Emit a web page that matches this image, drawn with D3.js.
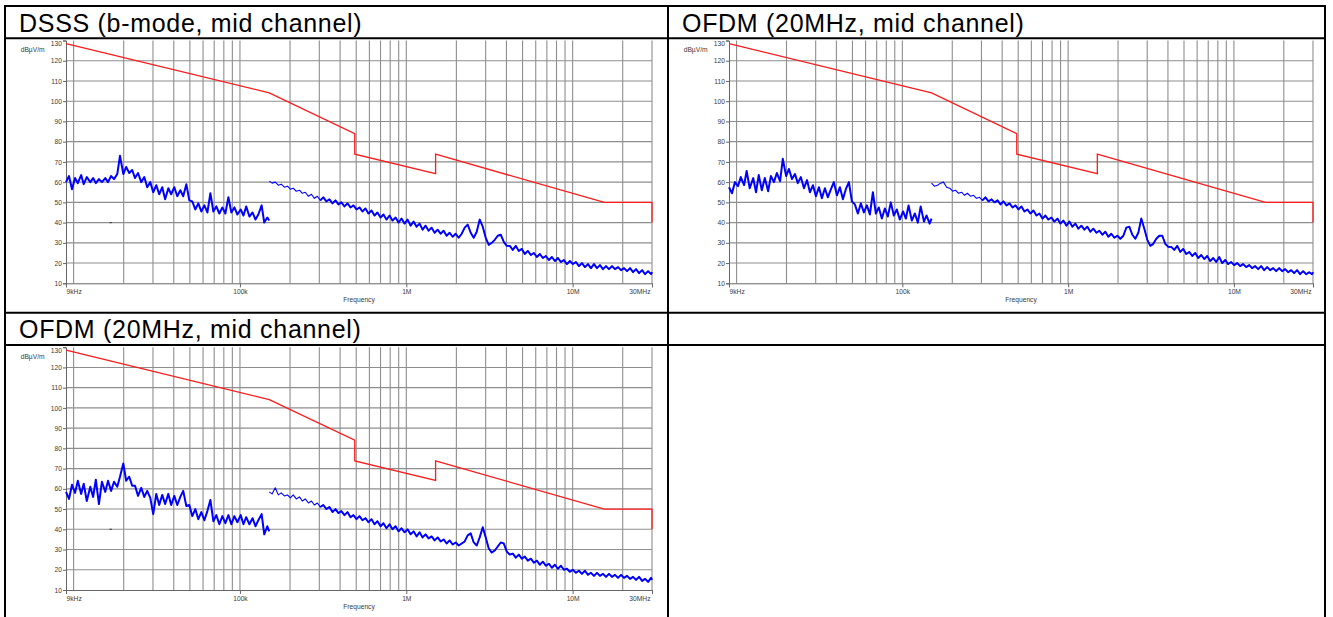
<!DOCTYPE html>
<html><head><meta charset="utf-8">
<script src="https://cdn.jsdelivr.net/npm/d3@7"></script>
<style>
html,body{margin:0;padding:0;background:#fff;}
svg{display:block;font-family:"Liberation Sans",Arial,Helvetica,sans-serif;}
</style></head><body>
<svg id="c" width="1333" height="617"></svg>
<script>
// ---------------- data ----------------
const panelTitles = ["DSSS (b-mode, mid channel)", "OFDM (20MHz, mid channel)", "OFDM (20MHz, mid channel)"];
const yTicks = [10, 20, 30, 40, 50, 60, 70, 80, 90, 100, 110, 120, 130];
const yUnit = "dBµV/m";
const xLabelTitle = "Frequency";
const xTickKHz = [9, 100, 1000, 10000, 30000];
const xTickText = ["9kHz", "100k", "1M", "10M", "30MHz"];
const xGridKHz = [10, 20, 30, 40, 50, 60, 70, 80, 90, 100, 200, 300, 400, 500, 600, 700, 800, 900,
  1000, 2000, 3000, 4000, 5000, 6000, 7000, 8000, 9000, 10000, 20000, 30000];
// limit line (kHz, dBµV/m)
const limitKHz = [9, 150, 490, 490, 1500, 1500, 15500, 30000, 30000];
const limitDb = [128.5, 104.1, 84, 73.8, 64.2, 73.8, 50, 50, 40];
// sweep frequencies (kHz)
const freqSeg1 = [9, 9.38, 9.78, 10.2, 10.6, 11.1, 11.5, 12.0, 12.6, 13.1, 13.6, 14.2, 14.8, 15.5, 16.1, 16.8, 17.5, 18.3, 19.0, 19.9,
  20.7, 21.6, 22.5, 23.4, 24.4, 25.5, 26.6, 27.7, 28.9, 30.1, 31.4, 32.7, 34.1, 35.5, 37.1, 38.6, 40.3, 42.0, 43.8, 45.6,
  47.6, 49.6, 51.7, 53.9, 56.2, 58.6, 61.1, 63.7, 66.4, 69.2, 72.1, 75.2, 78.4, 81.7, 85.2, 88.8, 92.6, 96.5, 101, 105,
  109, 114, 119, 124, 129, 135, 140, 146, 150];
const freqSeg2 = [150, 156, 163, 170, 177, 185, 193, 201, 209, 218, 228, 237, 247, 258, 269, 280, 292, 304, 317, 331,
  345, 360, 375, 391, 407, 425, 443, 462, 481, 502, 523, 545, 568, 592, 618, 644, 671, 700, 729, 760,
  793, 826, 862, 898, 936, 976, 1018, 1061, 1106, 1153, 1202, 1253, 1306, 1362, 1420, 1480, 1543, 1609, 1677, 1748,
  1822, 1900, 1981, 2065, 2153, 2244, 2339, 2439, 2543, 2651, 2763, 2881, 3003, 3131, 3264, 3402, 3547, 3698, 3855, 4019,
  4190, 4368, 4553, 4747, 4949, 5159, 5378, 5607, 5845, 6093, 6352, 6622, 6904, 7197, 7503, 7822, 8155, 8501, 8862, 9239,
  9632, 10041, 10468, 10912, 11376, 11860, 12364, 12889, 13437, 14008, 14603, 15224, 15871, 16546, 17249, 17982, 18746, 19543, 20373, 21239,
  22142, 23083, 24064, 25087, 26153, 27264, 28423, 29631, 30000];
// measured levels (dBµV/m)
const dsssSeg1 = [60, 63, 56.5, 62, 59.5, 63.5, 59, 62.5, 60, 62, 59.5, 61.5, 60, 62, 60, 63, 61.5, 64, 73, 64,
  67.5, 64.5, 66, 62, 64.5, 60, 62.5, 57.5, 60, 55, 58.5, 54, 57.5, 51.5, 57, 54, 57.5, 53, 56, 53,
  59, 51, 50.5, 46.5, 49.5, 45.5, 48.5, 45, 54.5, 45.5, 48, 44.5, 47.5, 44.5, 52.5, 45, 47.5, 44, 46.5, 43.5,
  48, 43, 45, 41.5, 44, 48.5, 40, 42.5, 41];
const dsssSeg2 = [60.5, 59.5, 60, 58.5, 59, 57.5, 58, 56.5, 57, 55.5, 56, 54.5, 55, 53, 54, 52, 53, 51, 52.5, 50.5,
  51.5, 49.5, 51, 49, 50, 48, 49.5, 47.5, 48.5, 46.5, 47.5, 45.5, 47, 44.5, 46, 43.5, 45, 42.5, 44, 41.5,
  43.5, 41, 42.5, 40, 42, 39.5, 41.5, 38.5, 40.5, 38, 39.5, 36.5, 38.5, 36, 37.5, 35, 36.5, 34.5, 36, 33.5,
  35, 33, 34.5, 32.5, 34.5, 37.5, 39, 35, 32.5, 35.5, 41.5, 38, 32.5, 29, 30, 31.5, 33.5, 34, 30.5, 28.5,
  28.5, 26.5, 28.5, 26, 27, 24.5, 26, 24, 25, 23, 24.5, 22.5, 23.5, 21.5, 23, 21, 22.5, 20.5, 21.5, 19.5,
  21, 19.5, 20.5, 18.5, 20, 18, 19.5, 17.5, 19.5, 17.5, 19, 17, 18.5, 17, 18.5, 17, 18, 16.5, 17.5, 16,
  17.5, 15.5, 17, 15, 16.5, 14.5, 16, 14.5, 15.5];
const ofdmASeg1 = [57.5, 54.5, 60, 58, 62.5, 58.5, 65.5, 57, 62, 55, 63.5, 56, 62, 55.5, 63, 60, 64.5, 60.5, 71.5, 63,
  66.5, 61.5, 64, 59.5, 62.5, 57, 61, 55, 58.5, 53, 57.5, 52, 57, 52.5, 56.5, 60, 53.5, 57.5, 51.5, 56.5,
  60, 50.5, 49, 44.5, 49.5, 45, 48.5, 44, 55, 44.5, 47.5, 42, 47, 43, 50, 43.5, 46.5, 41.5, 45.5, 42,
  48.5, 41, 44.5, 40, 48, 40.5, 43.5, 39.5, 42];
const ofdmASeg2 = [59.5, 58, 58.5, 59.5, 60, 57.5, 57, 55.5, 56, 54.5, 55, 53.5, 54.5, 53, 53.5, 52, 52.5, 51, 52.5, 50.5,
  51.5, 50, 51, 49, 50.5, 48.5, 49.5, 47.5, 48.5, 46.5, 48, 45.5, 46.5, 44.5, 46, 43.5, 44.5, 42, 43.5, 41.5,
  42.5, 40.5, 42, 39.5, 41, 38.5, 40.5, 38, 39.5, 37, 38.5, 36.5, 38, 35.5, 37, 35, 36, 34, 35.5, 33,
  34.5, 32.5, 33.5, 32, 33.5, 37.5, 38, 34, 32, 35, 42, 37, 31.5, 28.5, 29.5, 32, 33.5, 33.5, 29.5, 28,
  28, 26.5, 28.5, 25.5, 27, 24.5, 25.5, 23.5, 25, 22.5, 24, 22, 23.5, 21, 22.5, 20.5, 23, 20, 21.5, 19.5,
  20.5, 19, 20, 18.5, 19.5, 18, 19, 17.5, 18.5, 17, 18.5, 16.5, 18, 16.5, 17.5, 16, 17.5, 16, 17, 15.5,
  16.5, 15, 16.5, 14.5, 16, 14.5, 15.5, 14.5, 15.5];
const ofdmBSeg1 = [58.5, 55, 62, 58, 64, 57.5, 62.5, 54, 61, 56, 64.5, 52.5, 63.5, 58.5, 64, 59, 63.5, 61, 66, 72.5,
  64, 66, 61.5, 61.5, 56.5, 60.5, 56, 59, 55.5, 47.5, 57.5, 52, 57, 52.5, 57.5, 52, 56.5, 52, 56, 59,
  51.5, 52, 46.5, 50, 45, 48.5, 44.5, 49, 54.5, 44, 47, 42.5, 46.5, 43, 47, 42.5, 46.5, 43.5, 47, 42.5,
  46, 42.5, 45.5, 41.5, 44.5, 47.5, 37.5, 41.5, 39];
const ofdmBSeg2 = [58.5, 57.5, 60.5, 57, 58, 56.5, 57, 55.5, 57, 55, 56, 54, 55, 53, 54, 52, 53, 51, 52, 50,
  51, 48.5, 50, 48, 49, 47, 48.5, 46, 47, 45, 46.5, 44.5, 45.5, 43.5, 45, 42.5, 44, 41.5, 43, 40.5,
  42.5, 40, 41.5, 39, 40.5, 38.5, 40, 37.5, 39, 36.5, 38.5, 36, 37.5, 35.5, 36.5, 34.5, 36, 34, 35, 33,
  34.5, 32.5, 33.5, 32, 33, 34, 37, 38, 33.5, 32, 36, 41, 36, 30.5, 28.5, 29.5, 31.5, 33.5, 33, 29,
  27.5, 28, 26, 27.5, 25.5, 26.5, 24.5, 25.5, 23.5, 24.5, 22.5, 24, 22, 23, 21, 22.5, 20.5, 22, 20, 20.5,
  19, 20, 18.5, 19.5, 18, 19.5, 17.5, 18.5, 17, 18.5, 17, 18, 16.5, 18, 16.5, 17.5, 16, 17.5, 16, 17,
  15.5, 16.5, 15, 16.5, 14.5, 15.5, 14, 16, 15];
// small marker seen on the plot (kHz, dB)
const markerKHz = [16.7];
const markerDb = [40];

// ---------------- layout ----------------
const svg = d3.select("#c");
const panels = [
  {title: panelTitles[0], cx: 5, cy: 6, s1: dsssSeg1, s2: dsssSeg2, marker: true, left: 66, right: 652},
  {title: panelTitles[1], cx: 668, cy: 6, s1: ofdmASeg1, s2: ofdmASeg2, marker: false, left: 729, right: 1313},
  {title: panelTitles[2], cx: 5, cy: 312.7, s1: ofdmBSeg1, s2: ofdmBSeg2, marker: true, left: 66, right: 652}
];

// table borders
const tbl = svg.append("g").attr("stroke", "#000").attr("stroke-width", 2);
const hLines = [[5, 1325, 6], [5, 1325, 38.3], [5, 1325, 312.7], [5, 1325, 345]];
hLines.forEach(h => tbl.append("line").attr("x1", h[0] - 1).attr("x2", h[1] + 1).attr("y1", h[2]).attr("y2", h[2]));
[5, 668, 1325].forEach(x => tbl.append("line").attr("x1", x).attr("x2", x).attr("y1", 5).attr("y2", 620));

panels.forEach(p => {
  const g = svg.append("g");
  const top = p.cy + 34.5, bottom = p.cy + 277.3;
  const x = d3.scaleLog().domain([9, 30000]).range([p.left, p.right]);
  const y = d3.scaleLinear().domain([10, 130]).range([bottom, top]);

  // title
  g.append("text").attr("x", p.cx + 14).attr("y", p.cy + 25.7)
    .attr("font-size", 25).attr("letter-spacing", 0.7).attr("fill", "#000").text(p.title);

  // grid
  const grid = g.append("g").attr("stroke", "#8e8e8e").attr("stroke-width", 1.1);
  xGridKHz.forEach(f => grid.append("line").attr("x1", x(f)).attr("x2", x(f)).attr("y1", top).attr("y2", bottom));
  yTicks.filter(v => v > 10 && v < 130).forEach(v => grid.append("line")
    .attr("x1", p.left).attr("x2", p.right).attr("y1", y(v)).attr("y2", y(v)));

  // axes
  const ya = g.append("g").attr("transform", `translate(${p.left},0)`)
    .call(d3.axisLeft(y).tickValues(yTicks).tickSize(3).tickPadding(1).tickFormat(d3.format("d")));
  const xa = g.append("g").attr("transform", `translate(0,${bottom})`)
    .call(d3.axisBottom(x).tickValues(xTickKHz).tickSize(4).tickPadding(2)
      .tickFormat((d, i) => xTickText[i]));
  [ya, xa].forEach(a => {
    a.select(".domain").attr("stroke", "#666");
    a.selectAll(".tick line").attr("stroke", "#666");
    a.selectAll("text").attr("font-size", 6.7).attr("fill", "#3a3a3a")
      .attr("font-family", '"Liberation Sans",Arial,sans-serif');
  });
  ya.selectAll(".tick text").filter(d => d === 130).attr("dy", "0.75em");
  xa.selectAll(".tick text").attr("text-anchor", (d, i) => i === 0 ? "start" : (i === xTickKHz.length - 1 ? "end" : "middle"));
  xa.selectAll(".tick text").filter((d, i) => i === xTickKHz.length - 1).attr("dx", -2);

  g.append("text").attr("x", (p.left + p.right) / 2).attr("y", bottom + 18.8)
    .attr("text-anchor", "middle").attr("font-size", 6.7).attr("fill", "#3a3a3a").text(xLabelTitle);
  g.append("text").attr("x", p.cx + 15.7).attr("y", top + 11.3)
    .attr("font-size", 6.7).attr("fill", "#3a3a3a").text(yUnit);

  // limit
  const lim = limitKHz.map((f, i) => [f, limitDb[i]]);
  const line = d3.line().x(d => x(d[0])).y(d => y(d[1]));
  g.append("path").attr("d", line(lim)).attr("fill", "none").attr("stroke", "#ff1a1a").attr("stroke-width", 1.3);

  // marker
  if (p.marker) {
    markerKHz.forEach((f, i) => g.append("line").attr("x1", x(f) - 1.2).attr("x2", x(f) + 1.2)
      .attr("y1", y(markerDb[i])).attr("y2", y(markerDb[i])).attr("stroke", "#444").attr("stroke-width", 1.2));
  }

  // measured traces
  const n1 = Math.min(freqSeg1.length, p.s1.length), n2 = Math.min(freqSeg2.length, p.s2.length);
  const d1 = d3.range(n1).map(i => [freqSeg1[i], p.s1[i]]);
  const d2 = d3.range(n2).map(i => [freqSeg2[i], p.s2[i]]);
  const blue = "#0000ff";
  g.append("path").attr("d", line(d1)).attr("fill", "none").attr("stroke", blue).attr("stroke-width", 2).attr("stroke-linejoin", "round");
  g.append("path").attr("d", line(d2)).attr("fill", "none").attr("stroke", blue).attr("stroke-width", 1.1).attr("stroke-linejoin", "round");
  g.append("path").attr("d", line(d2.filter(d => d[0] >= 300))).attr("fill", "none").attr("stroke", blue).attr("stroke-width", 1.9).attr("stroke-linejoin", "round");
});
</script>
</body></html>
